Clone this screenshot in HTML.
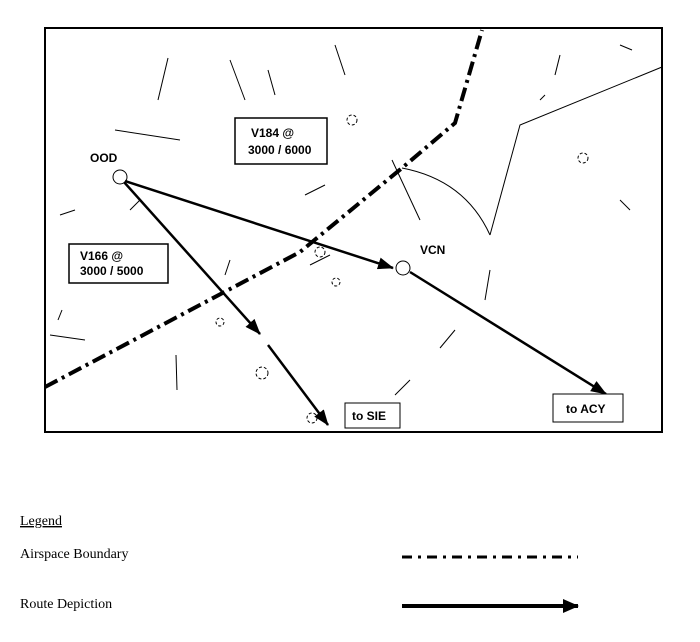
<!DOCTYPE html>
<html><head><style>
body{margin:0;background:#fff;width:700px;height:642px;overflow:hidden}
svg{display:block}
.l{font-family:"Liberation Sans",sans-serif;font-weight:bold;font-size:12px}
.s{font-family:"Liberation Serif",serif;font-size:14px}
</style></head><body>
<svg width="700" height="642" viewBox="0 0 700 642">
<defs><marker id="a" markerWidth="16" markerHeight="12" refX="15" refY="6" orient="auto" markerUnits="userSpaceOnUse"><path d="M0,0 L16,6 L0,12z" fill="#000"/></marker>
<marker id="b" markerWidth="16" markerHeight="14" refX="15" refY="7" orient="auto" markerUnits="userSpaceOnUse"><path d="M0,0 L16,7 L0,14z" fill="#000"/></marker></defs>
<rect x="45" y="28" width="617" height="404" fill="none" stroke="#000" stroke-width="2"/>
<g stroke="#000" stroke-width="1" fill="none">
<path d="M402,168 Q465,180 490,235"/><path d="M490,235 L520,125 L662,67"/>
<path d="M158,100 L168,58"/><path d="M230,60 L245,100"/><path d="M268,70 L275,95"/><path d="M335,45 L345,75"/>
<path d="M180,140 L115,130"/><path d="M75,210 L60,215"/><path d="M140,200 L130,210"/>
<path d="M305,195 L325,185"/><path d="M330,255 L310,265"/><path d="M230,260 L225,275"/>
<path d="M176,355 L177,390"/><path d="M62,310 L58,320"/><path d="M50,335 L85,340"/>
<path d="M490,270 L485,300"/><path d="M455,330 L440,348"/><path d="M410,380 L395,395"/>
<path d="M620,200 L630,210"/><path d="M540,100 L545,95"/><path d="M560,55 L555,75"/><path d="M620,45 L632,50"/>
<path d="M238,160 L300,150"/><path d="M392,160 L420,220"/>
</g>
<g fill="none" stroke="#000" stroke-width="1" stroke-dasharray="3,2">
<circle cx="352" cy="120" r="5"/><circle cx="220" cy="322" r="4"/><circle cx="262" cy="373" r="6"/><circle cx="336" cy="282" r="4"/>
<circle cx="583" cy="158" r="5"/><circle cx="312" cy="418" r="5"/><circle cx="320" cy="252" r="5"/>
</g>
<circle cx="120" cy="177" r="7" fill="#fff" stroke="#000"/>
<circle cx="403" cy="268" r="7" fill="#fff" stroke="#000"/>
<path d="M45,387 L300,252 L402,168 L455,123 L482,30" fill="none" stroke="#000" stroke-width="4" stroke-dasharray="14,5,3,5"/>
<g stroke="#000" stroke-width="2.5" fill="none">
<line x1="125" y1="181" x2="393" y2="268" marker-end="url(#a)"/>
<line x1="124" y1="182" x2="260" y2="334" marker-end="url(#a)"/>
<line x1="268" y1="345" x2="328" y2="425" marker-end="url(#a)"/>
<line x1="410" y1="272" x2="606" y2="394" marker-end="url(#a)"/>
</g>
<rect x="235" y="118" width="92" height="46" fill="#fff" stroke="#000" stroke-width="1.5"/>
<text class="l" x="251" y="137">V184 @</text><text class="l" x="248" y="154">3000 / 6000</text>
<rect x="69" y="244" width="99" height="39" fill="#fff" stroke="#000" stroke-width="1.5"/>
<text class="l" x="80" y="260">V166 @</text><text class="l" x="80" y="275">3000 / 5000</text>
<rect x="345" y="403" width="55" height="25" fill="#fff" stroke="#000" stroke-width="1"/>
<text class="l" x="352" y="420">to SIE</text>
<rect x="553" y="394" width="70" height="28" fill="#fff" stroke="#000" stroke-width="1"/>
<text class="l" x="566" y="413">to ACY</text>
<text class="l" x="90" y="162">OOD</text>
<text class="l" x="420" y="254">VCN</text>
<text class="s" x="20" y="525" text-decoration="underline">Legend</text>
<text class="s" x="20" y="558">Airspace Boundary</text>
<text class="s" x="20" y="608">Route Depiction</text>
<line x1="402" y1="557" x2="578" y2="557" stroke="#000" stroke-width="3" stroke-dasharray="10,6,3,6"/>
<line x1="402" y1="606" x2="578" y2="606" stroke="#000" stroke-width="4" marker-end="url(#b)"/>
</svg>
</body></html>
